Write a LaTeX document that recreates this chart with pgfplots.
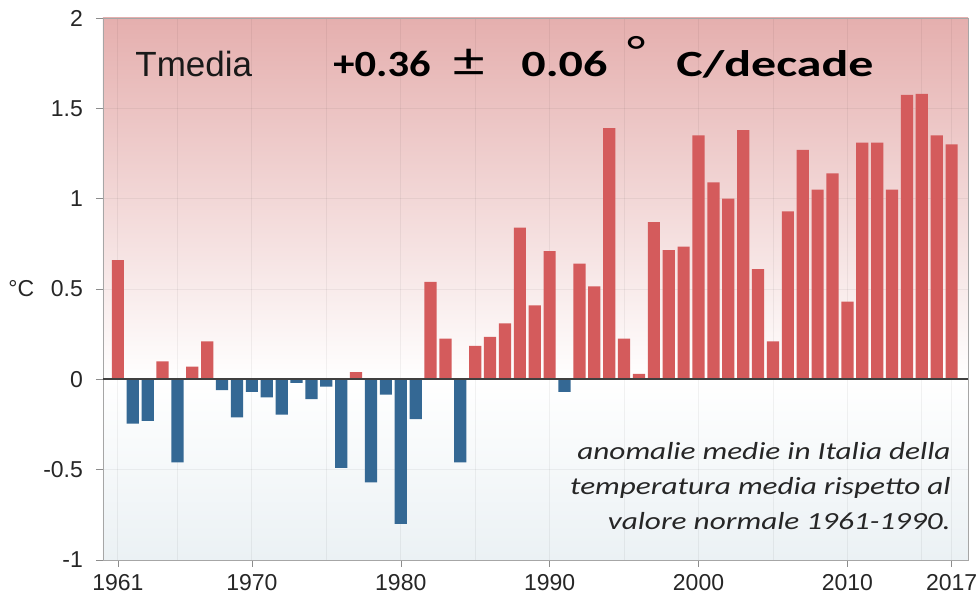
\documentclass[border=0pt]{standalone}
\usepackage{pgfplots}
\pgfplotsset{compat=1.18}
\usepackage{fontspec}
\setmainfont{Liberation Sans}
\newfontfamily\cali{Carlito}

\definecolor{barred}{HTML}{D45B5C}
\definecolor{barblue}{HTML}{346894}
\definecolor{bgtop}{HTML}{E5AFAE}
\definecolor{bgbot}{HTML}{EBF1F4}

% background: pink at top, white at 0, pale blue at bottom
\pgfdeclareverticalshading{tbg}{100bp}{color(0bp)=(bgbot); color(25bp)=(bgbot); color(41.67bp)=(white); color(75bp)=(bgtop); color(100bp)=(bgtop)}

\begin{document}
\begin{tikzpicture}
\begin{axis}[
  name=ax,
  scale only axis,
  width=432.5pt, height=271pt,
  xmin=1960, xmax=2018.1,
  ymin=-1, ymax=2,
  axis background/.style={shading=tbg},
  ybar, bar width=0.82, bar shift=0pt,
  xtick={1961,1970,1980,1990,2000,2010,2017},
  minor xtick={1965,1975,1985,1995,2005,2015},
  ytick={-1,-0.5,...,2},
  /pgf/number format/assume math mode=true,
  xticklabel style={/pgf/number format/1000 sep={}},
  tick label style={font=\fontsize{11.5}{13}\selectfont, text=black!85},
  yticklabel style={xshift=-3pt},
  tick align=outside,
  major tick length=3.5pt, minor tick length=0pt,
  xtick pos=lower, ytick pos=left,
  tick style={black!45},
  axis line style={black!35},
  xmajorgrids, xminorgrids, ymajorgrids,
  major grid style={black, opacity=0.05},
  minor grid style={black, opacity=0.05},
]
\addplot[fill=barred, draw=none] coordinates {
  (1961,0.66) (1964,0.10) (1966,0.07) (1967,0.21) (1977,0.04)
  (1982,0.54) (1983,0.225) (1985,0.185) (1986,0.235) (1987,0.31)
  (1988,0.84) (1989,0.41) (1990,0.71) (1992,0.64) (1993,0.515)
  (1994,1.39) (1995,0.225) (1996,0.03) (1997,0.87) (1998,0.715)
  (1999,0.735) (2000,1.35) (2001,1.09) (2002,1.00) (2003,1.38)
  (2004,0.61) (2005,0.21) (2006,0.93) (2007,1.27) (2008,1.05)
  (2009,1.14) (2010,0.43) (2011,1.31) (2012,1.31) (2013,1.05)
  (2014,1.575) (2015,1.58) (2016,1.35) (2017,1.30)
};
\addplot[fill=barblue, draw=none] coordinates {
  (1962,-0.245) (1963,-0.23) (1965,-0.46) (1968,-0.06) (1969,-0.21)
  (1970,-0.07) (1971,-0.10) (1972,-0.195) (1973,-0.02) (1974,-0.11)
  (1975,-0.04) (1976,-0.49) (1978,-0.57) (1979,-0.085) (1980,-0.80)
  (1981,-0.22) (1984,-0.46) (1991,-0.07)
};
\draw[black!75, line width=0.9pt] (axis cs:1960,0) -- (axis cs:2018.1,0);
\end{axis}

\node[anchor=west, inner sep=0, font=\fontsize{11.5}{13}\selectfont, text=black!85]
  at ([xshift=-47.5pt]ax.west) {°C};
\node[anchor=base west, inner sep=0, font=\fontsize{17.5}{20}\selectfont, text=black!90]
  at ([shift={(16pt,-29.3pt)}]ax.north west) {Tmedia};

\begin{scope}[every node/.style={anchor=base west, inner sep=0, font=\cali\bfseries\fontsize{18.5}{20}\selectfont}]
\node at ([shift={(115pt,-29.3pt)}]ax.north west) {\scalebox{1.15}[1]{+0.36}};
\node at ([shift={(175pt,-29.3pt)}]ax.north west) {\scalebox{1.7}[1.3]{\mdseries ±}};
\node at ([shift={(209pt,-29.3pt)}]ax.north west) {\scalebox{1.3}[1]{0.06}};
\node at ([shift={(262pt,-23.8pt)}]ax.north west) {\scalebox{1.45}[1.15]{\mdseries °}};
\node at ([shift={(286.5pt,-29.3pt)}]ax.north west) {\scalebox{1.35}[1]{C/decade}};
\end{scope}

\begin{scope}[every node/.style={anchor=base east, inner sep=0, font=\cali\itshape\fontsize{12.3}{14}\selectfont, text=black!85}]
\node at ([shift={(-8.5pt,50pt)}]ax.south east) {\scalebox{1.27}[1]{anomalie medie in Italia della}};
\node at ([shift={(-8.5pt,32.5pt)}]ax.south east) {\scalebox{1.27}[1]{temperatura media rispetto al}};
\node at ([shift={(-8.5pt,15pt)}]ax.south east) {\scalebox{1.27}[1]{valore normale 1961-1990.}};
\end{scope}

\pgfresetboundingbox
\path[use as bounding box] ([shift={(-51.5pt,-21.5pt)}]ax.south west) rectangle ([shift={(6pt,9pt)}]ax.north east);
\end{tikzpicture}
\end{document}
